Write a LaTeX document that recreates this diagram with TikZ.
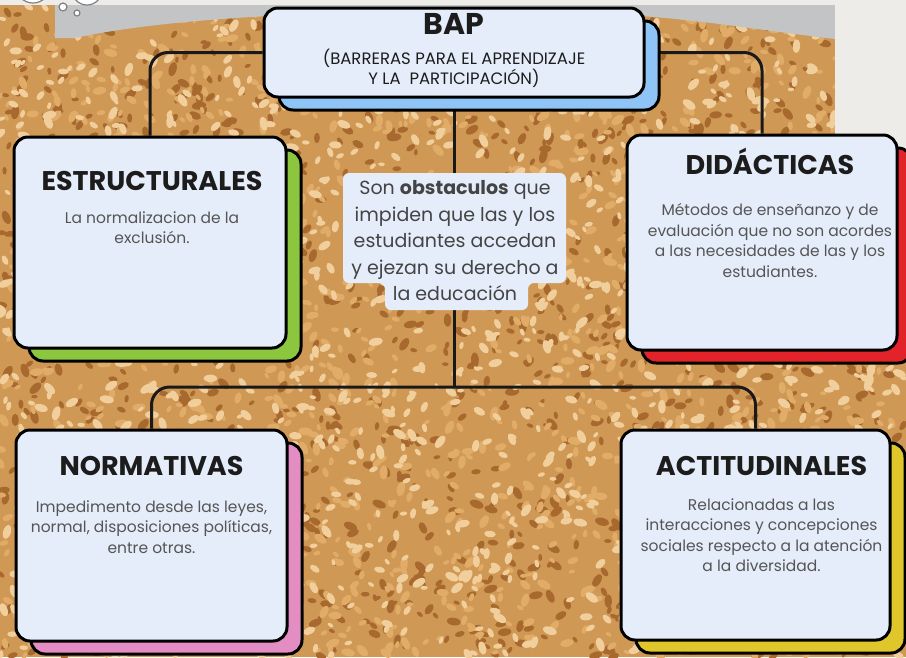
\documentclass[tikz,border=0pt]{standalone}
\usepackage{fontspec}
\setmainfont{Poppins}
\usetikzlibrary{positioning, shadows}

\definecolor{cork}{HTML}{D09855}
\definecolor{corkdark}{HTML}{A8692F}
\definecolor{corkmid}{HTML}{E0AC68}
\definecolor{corklight}{HTML}{F0CF9C}
\definecolor{band}{HTML}{C3C4C6}
\definecolor{paper}{HTML}{EDECE9}
\definecolor{cardfill}{HTML}{E5EDFA}
\definecolor{ink}{HTML}{1C1C1C}
\definecolor{bodyink}{HTML}{555555}
\definecolor{bapblue}{HTML}{8FC4F6}
\definecolor{estrgreen}{HTML}{8CC63F}
\definecolor{didared}{HTML}{E2232A}
\definecolor{normpink}{HTML}{E38DC3}
\definecolor{actiyellow}{HTML}{DFC62A}

\pgfdeclarelayer{cork}
\pgfdeclarelayer{background}
\pgfsetlayers{cork,background,main}

\tikzset{
  card/.style={rectangle,
    rounded corners=14pt,
    draw=black,
    line width=3pt,
    fill=cardfill,
    inner sep=0pt
    },
  backing/.style={general shadow={shadow xshift=15pt,
    shadow yshift=-13pt,
    fill=#1,
    draw=black,
    line width=3pt}
    },
  cardtitle/.style={font=\fontsize{27}{30}\selectfont\bfseries,
    text=ink
    },
  cardtext/.style={font=\fontsize{15.5}{20.5}\selectfont,
    text=bodyink,
    align=center
    },
  link/.style={line width=3pt,
    draw=black!90,
    rounded corners=18pt
    }
}

\begin{document}
\begin{tikzpicture}[x=1pt, y=-1pt]
\useasboundingbox (0,0) rectangle (906,657);

% cork board
\begin{pgfonlayer}{cork}
\fill[cork] (0,0) rectangle (906,657);
\pgfmathsetseed{17}
\foreach \grain in {corkdark, corkmid, corklight}{
  \foreach \i in {1,...,1400}{
    \pgfmathsetmacro{\gx}{906*rnd}
    \pgfmathsetmacro{\gy}{657*rnd}
    \pgfmathsetmacro{\ga}{180*rnd}
    \pgfmathsetmacro{\grainw}{3.2+4*rnd}
    \fill[\grain] (\gx,\gy) ellipse [x radius=\grainw, y radius=0.55*\grainw, rotate=\ga];
  }
}
\fill[band] (55,5) -- (835,5) -- (835,39)
  .. controls (760,30) and (700,20) .. (640,16) -- (270,16)
  .. controls (190,20) and (120,28) .. (75,38) -- (55,38) -- cycle;
\fill[paper] (835,0) rectangle (906,200);
\fill[paper] (0,0) rectangle (906,5);
\draw[gray, line width=1.2pt, fill=white] (33,-14) circle (17);
\draw[gray, line width=1.2pt, fill=white] (87,-10) circle (15);
\draw[gray, line width=1.2pt, fill=white] (63,7) circle (4);
\draw[gray, line width=1.2pt, fill=white] (77,13) circle (3);
\end{pgfonlayer}

\node (bap) [card, backing=bapblue, minimum width=380pt, minimum height=89pt] at (454,52.5) {};
\node (estr) [card, backing=estrgreen, minimum width=272pt, minimum height=211pt] at (150,242.5) {};
\node (dida) [card, backing=didared, minimum width=270pt, minimum height=215pt] at (762,242.5) {};
\node (norm) [card, backing=normpink, minimum width=271pt, minimum height=211pt] at (151.5,535.5) {};
\node (acti) [card, backing=actiyellow, minimum width=269pt, minimum height=210pt] at (755.5,535) {};

\coordinate (hub) at (454,387);

\begin{pgfonlayer}{background}
\draw[link] (bap.west) -| (estr.north);
\draw[link] (bap.east) -| (dida.north);
\draw[link] (bap.south) -- (hub);
\draw[link] (hub) -| (norm.north);
\draw[link] (hub) -| (acti.north);
\end{pgfonlayer}

% titles
\node (bapT) [font=\fontsize{30}{32}\selectfont\bfseries, text=ink] at ([yshift=-17pt]bap.north) {BAP};
\node (bapD) [font=\fontsize{16.5}{20}\selectfont, text=ink, align=center, below=8pt of bapT]
  {(BARRERAS PARA EL APRENDIZAJE\\Y LA\ \ PARTICIPACIÓN)};

\node (estrT) [cardtitle] at ([xshift=2pt, yshift=-45pt]estr.north) {ESTRUCTURALES};
\node (estrD) [cardtext, below=14pt of estrT] {La normalizacion de la\\exclusión.};

\node (didaT) [cardtitle] at ([xshift=8pt, yshift=-28pt]dida.north) {DIDÁCTICAS};
\node (didaD) [cardtext, below=22pt of didaT]
  {Métodos de enseñanzo y de\\evaluación que no son acordes\\a las necesidades de las y los\\estudiantes.};

\node (normT) [cardtitle] at ([yshift=-37pt]norm.north) {NORMATIVAS};
\node (normD) [cardtext, below=18pt of normT]
  {Impedimento desde las leyes,\\normal, disposiciones políticas,\\entre otras.};

\node (actiT) [cardtitle] at ([xshift=6pt, yshift=-37pt]acti.north) {ACTITUDINALES};
\node (actiD) [cardtext, below=16pt of actiT]
  {Relacionadas a las\\interacciones y concepciones\\sociales respecto a la atención\\a la diversidad.};

% central note
\fill[cardfill, rounded corners=6pt] (343,173) -- (566,173) -- (566,283) -- (528,283)
  -- (528,310) -- (385,310) -- (385,283) -- (343,283) -- cycle;
\node (idea) [font=\fontsize{19}{26.5}\selectfont, text=bodyink!80!black, align=center] at (455,241)
  {Son \textbf{obstaculos} que\\impiden que las y los\\estudiantes accedan\\y ejezan su derecho a\\la educación};

\end{tikzpicture}
\end{document}
